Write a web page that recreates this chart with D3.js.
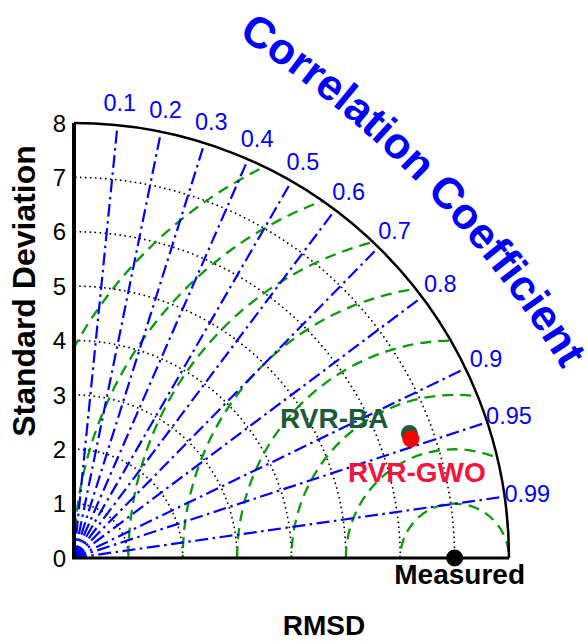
<!DOCTYPE html>
<html>
<head>
<meta charset="utf-8">
<script src="https://cdn.jsdelivr.net/npm/d3@7"></script>
<style>
  body { margin: 0; background: #fff; }
  svg { font-family: "Liberation Sans", Arial, sans-serif; }
</style>
</head>
<body>
<div id="main"></div>
<script>
// data
const stdTicks = [0, 1, 2, 3, 4, 5, 6, 7, 8];
const corrTicks = [0.1, 0.2, 0.3, 0.4, 0.5, 0.6, 0.7, 0.8, 0.9, 0.95, 0.99];
const stdArcs = [1, 2, 3, 4, 5, 6, 7];
const rmsdArcs = [1, 2, 3, 4, 5, 6, 7, 8];
const modelNames = ["Measured", "RVR-BA", "RVR-GWO"];
const modelStd = [7.0, 6.58, 6.57];
const modelCorr = [1.0, 0.9375, 0.943];
const modelColors = ["#000000", "#1d5a3b", "#ff0000"];
const labelColors = ["#000000", "#1d5a3b", "#f2153f"];

const width = 587;
const height = 641;
const cx = 74, cy = 558;
const maxStd = 8;

const r = d3.scaleLinear().domain([0, maxStd]).range([0, 435]);

// polar (std, angle) -> screen
const px = (s, a) => cx + r(s) * Math.cos(a);
const py = (s, a) => cy - r(s) * Math.sin(a);

const svg = d3.select("#main")
    .append("svg")
    .attr("width", width)
    .attr("height", height);

svg.append("defs")
    .append("clipPath")
    .attr("id", "quad")
    .append("path")
    .attr("d", `M${cx},${cy} L${px(maxStd, 0)},${cy} A${r(maxStd)},${r(maxStd)} 0 0 0 ${cx},${py(maxStd, Math.PI / 2)} Z`);

const arcPath = s => `M${px(s, 0)},${cy} A${r(s)},${r(s)} 0 0 0 ${cx},${py(s, Math.PI / 2)}`;

// std dev dotted arcs
svg.append("g")
    .selectAll("path")
    .data(stdArcs)
    .join("path")
    .attr("d", arcPath)
    .attr("fill", "none")
    .attr("stroke", "#000")
    .attr("stroke-width", 1.6)
    .attr("stroke-dasharray", "1.6,3.4");

// RMSD dashed circles around the measured point
const refX = px(modelStd[0], 0);
svg.append("g")
    .attr("clip-path", "url(#quad)")
    .selectAll("circle")
    .data(rmsdArcs)
    .join("circle")
    .attr("cx", refX)
    .attr("cy", cy)
    .attr("r", d => r(d))
    .attr("fill", "none")
    .attr("stroke", "#0a9a0a")
    .attr("stroke-width", 2.3)
    .attr("stroke-dasharray", "11,7");

// correlation rays
svg.append("g")
    .selectAll("line")
    .data(corrTicks)
    .join("line")
    .attr("x1", cx)
    .attr("y1", cy)
    .attr("x2", d => px(maxStd, Math.acos(d)))
    .attr("y2", d => py(maxStd, Math.acos(d)))
    .attr("stroke", "#0000ff")
    .attr("stroke-width", 2.2)
    .attr("stroke-dasharray", "13,4.5,2.5,4.5");

// frame
svg.append("path")
    .attr("d", arcPath(maxStd))
    .attr("fill", "none")
    .attr("stroke", "#000")
    .attr("stroke-width", 2.5);

svg.append("line")
    .attr("x1", cx).attr("y1", cy)
    .attr("x2", cx).attr("y2", py(maxStd, Math.PI / 2))
    .attr("stroke", "#000")
    .attr("stroke-width", 4);

svg.append("line")
    .attr("x1", cx - 2).attr("y1", cy)
    .attr("x2", px(maxStd, 0)).attr("y2", cy)
    .attr("stroke", "#000")
    .attr("stroke-width", 3);

// std tick labels
svg.append("g")
    .selectAll("text")
    .data(stdTicks)
    .join("text")
    .attr("x", cx - 8)
    .attr("y", d => cy - r(d))
    .attr("dy", "0.36em")
    .attr("text-anchor", "end")
    .attr("font-size", 24)
    .text(d => d);

// correlation labels
svg.append("g")
    .selectAll("text")
    .data(corrTicks)
    .join("text")
    .attr("x", d => px(8.42, Math.acos(d)))
    .attr("y", d => py(8.42, Math.acos(d)))
    .attr("dy", "0.36em")
    .attr("text-anchor", "middle")
    .attr("font-size", 23.5)
    .attr("fill", "#0000ff")
    .text(d => d);

// curved title
const tc = { x: -322, y: 907 };
const tR = 1035;
const a0 = (-44.27 - 20) * Math.PI / 180;
const a1 = (-44.27 + 20) * Math.PI / 180;
svg.select("defs")
    .append("path")
    .attr("id", "titleArc")
    .attr("d", `M${tc.x + tR * Math.cos(a0)},${tc.y + tR * Math.sin(a0)} A${tR},${tR} 0 0 1 ${tc.x + tR * Math.cos(a1)},${tc.y + tR * Math.sin(a1)}`);

svg.append("text")
    .attr("font-size", 43.5)
    .attr("font-weight", "bold")
    .attr("fill", "#0000ff")
    .append("textPath")
    .attr("href", "#titleArc")
    .attr("startOffset", "50%")
    .attr("text-anchor", "middle")
    .text("Correlation Coefficient");

// model points
const pts = modelNames.map((name, i) => ({
    name: name,
    x: px(modelStd[i], Math.acos(modelCorr[i])),
    y: py(modelStd[i], Math.acos(modelCorr[i])),
    color: modelColors[i],
    label: labelColors[i]
}));

svg.append("g")
    .selectAll("circle")
    .data(pts)
    .join("circle")
    .attr("cx", d => d.x)
    .attr("cy", d => d.y)
    .attr("r", 8.5)
    .attr("fill", d => d.color);

const labelOffsets = [[5, 26, "middle"], [-21, -5, "end"], [-63, 43, "start"]];
svg.append("g")
    .selectAll("text")
    .data(pts)
    .join("text")
    .attr("x", (d, i) => d.x + labelOffsets[i][0])
    .attr("y", (d, i) => d.y + labelOffsets[i][1])
    .attr("text-anchor", (d, i) => labelOffsets[i][2])
    .attr("font-size", 28)
    .attr("font-weight", "bold")
    .attr("fill", d => d.label)
    .text(d => d.name);

// axis titles
svg.append("text")
    .attr("transform", "translate(35,291) rotate(-90)")
    .attr("text-anchor", "middle")
    .attr("font-size", 32)
    .attr("font-weight", "bold")
    .text("Standard Deviation");

svg.append("text")
    .attr("x", 324)
    .attr("y", 635)
    .attr("text-anchor", "middle")
    .attr("font-size", 28)
    .attr("font-weight", "bold")
    .text("RMSD");
</script>
</body>
</html>
